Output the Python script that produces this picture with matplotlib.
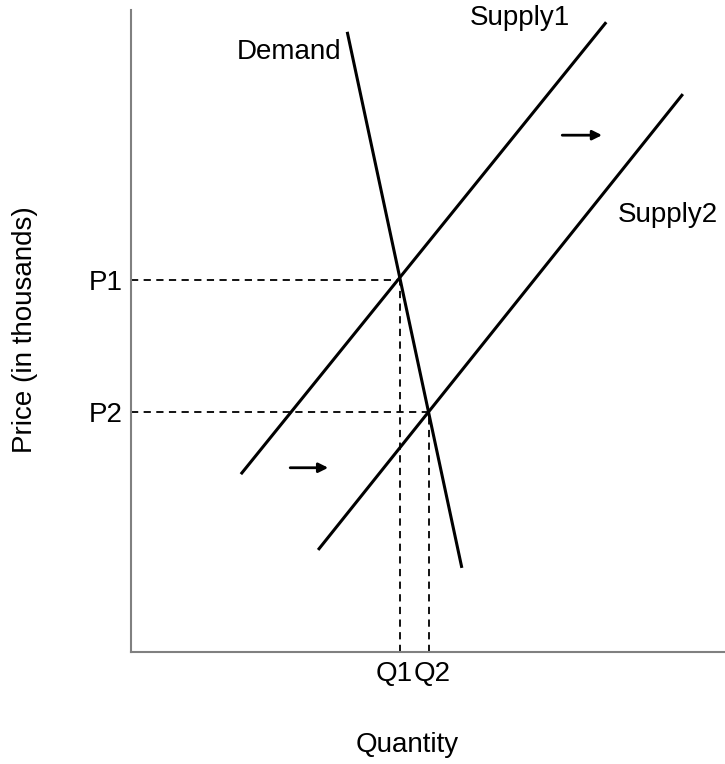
import matplotlib
matplotlib.use('Agg')
import matplotlib.pyplot as plt

plt.rcParams['font.family'] = ['Liberation Sans', 'DejaVu Sans']

# curves (data units, axes 0..10 both ways)
demand_x = [3.64, 5.57]
demand_y = [9.66, 1.31]
supply1_x = [1.85, 8.00]
supply1_y = [2.77, 9.81]
supply2_x = [3.15, 9.29]
supply2_y = [1.59, 8.69]

# equilibria
q_vals = [4.53, 5.02]
p_vals = [5.79, 3.74]
q_labels = ['Q1', 'Q2']
p_labels = ['P1', 'P2']

# shift arrows (start x, end x, y)
arrows = [(2.68, 3.32, 2.87), (7.26, 7.93, 8.05)]

fig = plt.figure(figsize=(7.25, 7.64), dpi=100)
ax = fig.add_axes([131/725, (764-652)/764, (725-131)/725, (652-10)/764])
ax.set_xlim(0, 10)
ax.set_ylim(0, 10)

lw = 2.2
ax.plot(demand_x, demand_y, color='black', lw=lw, solid_capstyle='butt')
ax.plot(supply1_x, supply1_y, color='black', lw=lw, solid_capstyle='butt')
ax.plot(supply2_x, supply2_y, color='black', lw=lw, solid_capstyle='butt')

for q, p in zip(q_vals, p_vals):
    ax.plot([0, q], [p, p], color='black', lw=1.3, ls=(0, (4, 3)))
    ax.plot([q, q], [0, p], color='black', lw=1.3, ls=(0, (4, 3)))

for x0, x1, y in arrows:
    ax.annotate('', xy=(x1, y), xytext=(x0, y),
                arrowprops=dict(arrowstyle='-|>', color='black', lw=2.0,
                                mutation_scale=14, shrinkA=0, shrinkB=0))

fs = 20
ax.text(2.66, 9.35, 'Demand', fontsize=fs, ha='center', va='center')
ax.text(6.55, 9.88, 'Supply1', fontsize=fs, ha='center', va='center')
ax.text(9.04, 6.81, 'Supply2', fontsize=fs, ha='center', va='center')

# Q labels sit side by side under the axis
ax.set_xticks(q_vals)
ax.set_xticklabels([])
for q, lab, dx in zip(q_vals, q_labels, [-6, 3]):
    ax.annotate(lab, xy=(q, 0), xytext=(dx, -22), textcoords='offset pixels',
                fontsize=fs, ha='center', va='center')
ax.set_yticks(p_vals)
ax.set_yticklabels(p_labels, fontsize=fs)
ax.tick_params(length=0, pad=6)

for s in ['top', 'right']:
    ax.spines[s].set_visible(False)
for s in ['left', 'bottom']:
    ax.spines[s].set_color('#808080')
    ax.spines[s].set_linewidth(1.5)

fig.text(407/725, 1 - 745/764, 'Quantity', fontsize=fs, ha='center', va='center')
fig.text(25/725, 1 - 330/764, 'Price (in thousands)', fontsize=fs,
         ha='center', va='center', rotation=90)

fig.savefig('out.png', dpi=100)
